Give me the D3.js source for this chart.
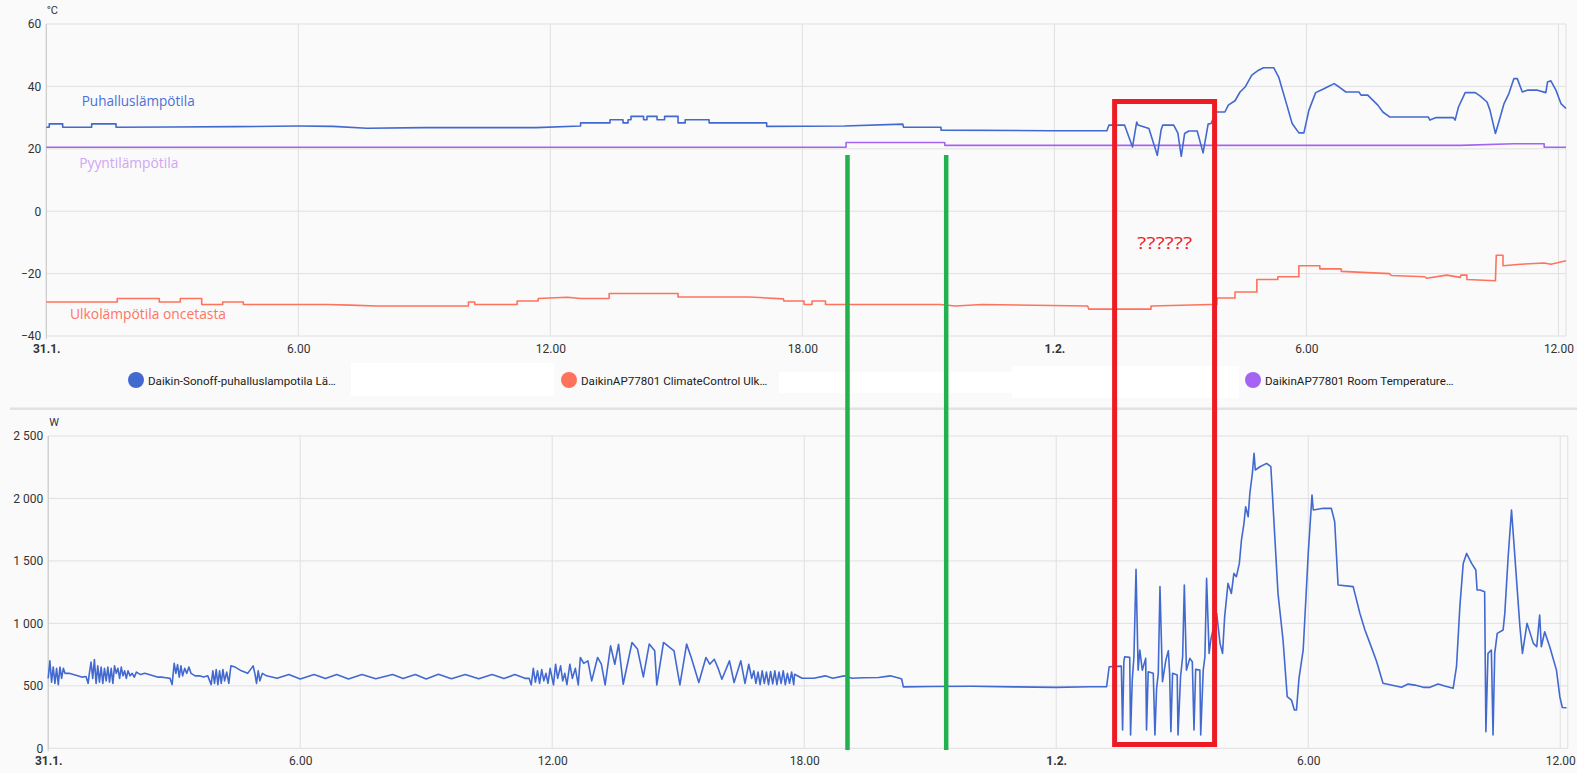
<!DOCTYPE html>
<html>
<head>
<meta charset="utf-8">
<script src="https://cdn.jsdelivr.net/npm/d3@7"></script>
<style>
  body { margin: 0; background: #fafafa; }
  svg { display: block; }
  .tick text { font-family: Roboto, sans-serif; font-size: 12px; fill: #333; }
</style>
</head>
<body>
<svg width="1577" height="773"></svg>
<script>
// hours since 31.1. 00:00
const xTicks = [0, 6, 12, 18, 24, 30, 36];
const xTickLabels = ["31.1.", "6.00", "12.00", "18.00", "1.2.", "6.00", "12.00"];
const dayTicks = [0, 24];
const tempTicks = [-40, -20, 0, 20, 40, 60];
const powerTicks = [0, 500, 1000, 1500, 2000, 2500];

// Puhalluslämpötila (°C)
const blowTemp = [[0,26.9],[0.07,26.9],[0.07,28],[0.39,28],[0.39,26.9],[1.08,26.9],[1.08,28],[1.66,28],[1.66,26.9],[3,27],[4.5,27.1],[6,27.3],[6.83,27.2],[7.63,26.6],[9,26.8],[10.5,26.8],[11.66,26.8],[12.72,27.3],[12.72,28.3],[13.42,28.3],[13.42,29.3],[13.73,29.3],[13.73,28.3],[13.85,28.3],[13.85,29.3],[13.92,29.3],[13.92,30.4],[14.22,30.4],[14.22,29.3],[14.3,29.3],[14.3,30.4],[14.54,30.4],[14.54,29.3],[14.72,29.3],[14.72,30.4],[15.04,30.4],[15.04,28.3],[15.21,28.3],[15.21,29.3],[15.78,29.3],[15.78,28.3],[17.15,28.3],[17.15,27.2],[19,27.3],[20.39,27.9],[20.41,26.9],[21.3,26.9],[21.3,26],[23.9,25.8],[25.25,25.8],[25.3,27.6],[25.67,27.6],[25.86,20.6],[25.96,28.6],[25.99,27.6],[26.25,26.5],[26.45,17.9],[26.54,26],[26.58,27.6],[26.84,27.6],[26.94,25],[27.02,17.6],[27.1,24.9],[27.2,25.7],[27.4,25.7],[27.54,18.7],[27.66,27.9],[27.73,28.1],[27.85,31.8],[28.06,31.8],[28.14,34],[28.3,35.4],[28.42,38.2],[28.54,39.8],[28.7,43.6],[28.86,45.2],[28.98,46],[29.22,46],[29.34,43],[29.5,35.6],[29.66,28.1],[29.82,25.1],[29.94,25.1],[30.06,32.4],[30.22,38],[30.38,39],[30.5,39.8],[30.66,40.9],[30.78,39.8],[30.94,38.2],[31.25,38.2],[31.3,37.2],[31.46,37.2],[31.58,35.6],[31.7,34],[31.82,31.8],[31.98,30.2],[32.9,30.2],[32.94,29.2],[33.09,30],[33.5,30],[33.54,29.2],[33.62,33.4],[33.78,38],[34.02,38],[34.14,36.9],[34.3,35],[34.37,32.4],[34.5,24.9],[34.58,28.6],[34.7,34.3],[34.82,37.7],[34.94,42.5],[35.02,42.5],[35.14,38.2],[35.26,38.8],[35.5,38.8],[35.7,38],[35.74,41.4],[35.82,41.8],[35.94,38.8],[36.06,34.5],[36.18,32.9]];

// Pyyntilämpötila / room temperature (°C)
const roomTemp = [[0,20.5],[19.04,20.5],[19.04,22],[21.39,22],[21.39,21.1],[33.66,21.1],[34.94,21.6],[35.66,21.6],[35.66,20.5],[36.18,20.5]];

// Ulkolämpötila (°C)
const outdoorTemp = [[0,-29.1],[1.69,-29.1],[1.69,-28],[2.69,-28],[2.69,-29.1],[3.19,-29.1],[3.19,-28],[3.7,-28],[3.7,-29.9],[4.2,-29.9],[4.2,-29.1],[4.69,-29.1],[4.69,-29.9],[6.7,-29.9],[7.23,-30.1],[7.87,-30.4],[10.05,-30.4],[10.05,-29.1],[10.2,-29.1],[10.2,-29.9],[11.21,-29.9],[11.21,-28.8],[11.71,-28.8],[11.71,-28],[12.4,-27.6],[12.72,-28],[13.4,-28],[13.4,-26.4],[15.04,-26.4],[15.04,-27.5],[16.73,-27.5],[17.55,-28.1],[17.56,-28.8],[18.04,-28.8],[18.04,-29.9],[18.23,-29.9],[18.23,-28.8],[18.55,-28.8],[18.55,-29.9],[21.28,-29.9],[21.64,-30.4],[22.28,-29.9],[24.79,-30.4],[24.82,-31.4],[26.3,-31.4],[26.3,-30.4],[27.74,-29.9],[27.87,-29.9],[27.87,-27.8],[28.3,-27.8],[28.3,-25.9],[28.82,-25.9],[28.82,-21.9],[29.32,-21.9],[29.32,-21],[29.82,-21],[29.82,-17.5],[30.32,-17.5],[30.32,-18.5],[30.83,-18.5],[30.83,-19.3],[31.98,-20],[32.02,-20.6],[32.82,-21],[32.86,-21.5],[33.34,-20.5],[33.66,-21.2],[33.68,-20.5],[33.82,-20.5],[33.82,-21.9],[34.5,-22.3],[34.52,-14.1],[34.68,-14.1],[34.68,-17.5],[35.1,-17],[35.66,-16.6],[35.82,-17],[36.18,-15.9]];

// power (W)
const powerW = [[0,560],[0.04,700],[0.08,530],[0.12,650],[0.16,520],[0.2,640],[0.24,510],[0.28,650],[0.32,560],[0.36,640],[0.4,600],[0.5,600],[0.6,590],[0.7,580],[0.8,570],[0.9,575],[0.95,520],[0.98,600],[1.02,690],[1.06,560],[1.1,710],[1.14,520],[1.18,660],[1.22,530],[1.26,650],[1.3,520],[1.34,640],[1.38,540],[1.42,650],[1.46,530],[1.5,640],[1.54,520],[1.58,660],[1.62,600],[1.66,640],[1.7,560],[1.74,650],[1.78,580],[1.82,620],[1.86,560],[1.9,620],[1.95,580],[2.0,600],[2.05,570],[2.1,610],[2.2,590],[2.3,600],[2.4,590],[2.5,580],[2.6,570],[2.7,570],[2.8,565],[2.9,560],[2.95,510],[3.0,680],[3.04,600],[3.08,670],[3.12,570],[3.16,660],[3.2,580],[3.25,640],[3.3,600],[3.35,650],[3.4,600],[3.5,580],[3.6,580],[3.7,570],[3.8,580],[3.88,510],[3.92,620],[3.96,520],[4.0,630],[4.04,510],[4.08,620],[4.12,520],[4.16,630],[4.2,540],[4.25,610],[4.3,520],[4.35,660],[4.45,650],[4.6,620],[4.75,600],[4.88,660],[4.92,600],[4.96,520],[5.0,620],[5.04,540],[5.1,600],[5.2,580],[5.45,560],[5.73,590],[6.0,555],[6.33,590],[6.6,558],[6.87,590],[7.15,555],[7.47,590],[7.8,556],[8.2,590],[8.45,558],[8.74,590],[9.0,555],[9.29,592],[9.6,557],[9.93,590],[10.25,556],[10.57,590],[10.85,558],[11.11,590],[11.35,560],[11.45,560],[11.5,508],[11.55,640],[11.6,530],[11.65,620],[11.7,520],[11.75,630],[11.8,540],[11.85,600],[11.9,520],[11.95,640],[12.03,508],[12.08,673],[12.13,560],[12.2,660],[12.25,540],[12.3,600],[12.35,510],[12.42,673],[12.48,560],[12.55,640],[12.62,508],[12.67,727],[12.75,680],[12.85,700],[12.94,540],[13.08,727],[13.17,673],[13.26,508],[13.39,820],[13.49,673],[13.58,833],[13.69,513],[13.9,847],[14.03,794],[14.17,572],[14.31,834],[14.44,780],[14.49,508],[14.65,847],[14.9,780],[15.04,508],[15.2,834],[15.31,727],[15.49,527],[15.66,727],[15.75,673],[15.86,713],[15.95,640],[16.04,553],[16.22,700],[16.33,527],[16.49,700],[16.59,519],[16.68,673],[16.75,560],[16.8,620],[16.85,520],[16.9,610],[16.95,510],[17.0,620],[17.05,520],[17.1,610],[17.15,510],[17.2,615],[17.25,515],[17.3,620],[17.35,510],[17.4,610],[17.45,520],[17.5,620],[17.55,510],[17.6,600],[17.65,520],[17.7,610],[17.75,510],[17.77,593],[17.95,561],[18.23,561],[18.5,580],[18.68,561],[18.95,580],[19.14,561],[19.4,565],[19.77,567],[20.05,580],[20.27,561],[20.32,555],[20.36,492],[21,495],[22,497],[23,492],[24,488],[24.8,493],[25.2,493],[25.26,653],[25.55,658],[25.58,146],[25.61,693],[25.63,733],[25.75,728],[25.77,106],[25.81,546],[25.85,733],[25.9,1432],[25.95,626],[25.99,787],[26.05,626],[26.13,720],[26.15,146],[26.19,613],[26.31,600],[26.35,106],[26.39,480],[26.43,600],[26.47,1294],[26.53,533],[26.61,706],[26.67,781],[26.7,600],[26.73,133],[26.77,600],[26.88,586],[26.9,106],[26.96,573],[27.01,733],[27.05,1307],[27.1,626],[27.18,720],[27.24,693],[27.28,146],[27.32,632],[27.42,626],[27.44,106],[27.5,626],[27.54,733],[27.58,1360],[27.64,760],[27.68,867],[27.82,1080],[27.9,840],[27.96,760],[28.01,1053],[28.09,1320],[28.17,1240],[28.23,1400],[28.29,1374],[28.36,1480],[28.41,1667],[28.47,1801],[28.51,1934],[28.57,1854],[28.61,2041],[28.67,2201],[28.71,2361],[28.74,2228],[28.85,2254],[29.01,2281],[29.11,2254],[29.28,1240],[29.4,867],[29.5,413],[29.6,386],[29.67,306],[29.72,306],[29.78,560],[29.88,787],[30.0,1560],[30.09,2028],[30.12,1908],[30.36,1921],[30.55,1921],[30.63,1814],[30.71,1307],[31.07,1294],[31.23,1080],[31.35,947],[31.47,840],[31.63,693],[31.78,520],[32.22,488],[32.38,514],[32.54,506],[32.74,488],[32.9,488],[33.09,514],[33.25,498],[33.45,480],[33.53,653],[33.61,1133],[33.69,1480],[33.77,1560],[33.89,1480],[33.99,1427],[34.02,1267],[34.09,1267],[34.2,1254],[34.23,133],[34.28,760],[34.36,787],[34.4,106],[34.44,760],[34.5,920],[34.64,947],[34.68,1080],[34.76,1534],[34.84,1908],[34.92,1534],[35.04,973],[35.1,760],[35.21,1000],[35.36,840],[35.44,813],[35.51,1067],[35.55,813],[35.63,933],[35.75,813],[35.91,626],[35.99,413],[36.05,327],[36.15,325]];

const legendNames = ["Daikin-Sonoff-puhalluslampotila Lä…", "DaikinAP77801 ClimateControl Ulk…", "DaikinAP77801 Room Temperature…"];
const legendColors = ["#4269d0", "#ff725c", "#a463f2"];

// hand-drawn markings on the screenshot (hours)
const greenMarks = [19.03, 21.38];
const redBox = [25.39, 27.77];

const hoursEnd = 36.18;
const svg = d3.select("svg");
svg.append("rect").attr("width", 1577).attr("height", 773).attr("fill", "#fafafa");

const spaceFmt = d3.formatLocale({ decimal: ",", thousands: " ", grouping: [3], currency: ["", ""] }).format(",");

function drawChart(cfg) {
  const x = d3.scaleLinear().domain([0, hoursEnd]).range([cfg.left, cfg.right]);
  const y = d3.scaleLinear().domain(cfg.domain).range([cfg.bottom, cfg.top]);
  const g = svg.append("g");

  // grid
  g.append("g").selectAll("line").data(cfg.yTicks).join("line")
    .attr("x1", cfg.left).attr("x2", cfg.right)
    .attr("y1", d => y(d)).attr("y2", d => y(d))
    .attr("stroke", "#e0e0e0");
  g.append("g").selectAll("line").data(xTicks.concat([hoursEnd])).join("line")
    .attr("x1", d => x(d)).attr("x2", d => x(d))
    .attr("y1", cfg.top).attr("y2", cfg.bottom)
    .attr("stroke", "#e0e0e0");
  g.append("line").attr("x1", cfg.left).attr("x2", cfg.left)
    .attr("y1", cfg.top).attr("y2", cfg.bottom + 3).attr("stroke", "#c8c8c8");

  const yAxis = g.append("g").attr("transform", `translate(${cfg.left},0)`)
    .call(d3.axisLeft(y).tickValues(cfg.yTicks).tickSize(0).tickPadding(5).tickFormat(cfg.fmt));
  yAxis.select(".domain").remove();

  const xAxis = g.append("g").attr("transform", `translate(0,${cfg.bottom})`)
    .call(d3.axisBottom(x).tickValues(xTicks).tickSize(0).tickPadding(8)
      .tickFormat((d, i) => xTickLabels[i]));
  xAxis.select(".domain").remove();
  xAxis.selectAll(".tick text")
    .style("font-weight", d => dayTicks.includes(d) ? "bold" : null);

  g.append("text").attr("x", cfg.left + 6).attr("y", cfg.top - 10)
    .attr("text-anchor", "middle").attr("font-family", "Roboto, sans-serif")
    .attr("font-size", 11).attr("fill", "#333").text(cfg.unit);

  const line = d3.line().x(d => x(d[0])).y(d => y(d[1]));
  cfg.series.forEach(s => {
    g.append("path").datum(s.data).attr("d", line)
      .attr("fill", "none").attr("stroke", s.color).attr("stroke-width", 1.6)
      .attr("stroke-linejoin", "round");
  });
  return { x, y };
}

const tempChart = drawChart({
  left: 46.3, right: 1566, top: 24, bottom: 336, domain: [-40, 60],
  yTicks: tempTicks, fmt: d => d < 0 ? "\u2212" + Math.abs(d) : d, unit: "°C",
  series: [
    { data: outdoorTemp, color: "#ff725c" },
    { data: roomTemp, color: "#a463f2" },
    { data: blowTemp, color: "#4269d0" }
  ]
});

const powerChart = drawChart({
  left: 48.2, right: 1567.8, top: 436, bottom: 748.3, domain: [0, 2500],
  yTicks: powerTicks, fmt: spaceFmt, unit: "W",
  series: [{ data: powerW, color: "#4269d0" }]
});

// separator between the cards
svg.append("rect").attr("x", 10).attr("y", 407.5).attr("width", 1567).attr("height", 2.5).attr("fill", "#e2e2e2");

// legend
const legendX = [136, 569, 1253];
const legend = svg.append("g");
legendNames.forEach((n, i) => {
  legend.append("circle").attr("cx", legendX[i]).attr("cy", 380).attr("r", 8).attr("fill", legendColors[i]);
  legend.append("text").attr("x", legendX[i] + 12).attr("y", 384.5)
    .attr("font-family", "Roboto, sans-serif").attr("font-size", 11.6).attr("fill", "#212121").text(n);
});
// white boxes covering hidden legend entries
[[351, 363, 203, 33], [779, 372, 233, 21], [1012, 366, 227, 32]].forEach(b => {
  svg.append("rect").attr("x", b[0]).attr("y", b[1]).attr("width", b[2]).attr("height", b[3]).attr("fill", "#fff");
});

// text annotations written on the screenshot
const notes = [
  { t: "Puhalluslämpötila", x: 81.7, y: 105.5, w: 113, c: "#4a6fd8" },
  { t: "Pyyntilämpötila", x: 79.3, y: 168.3, w: 99, c: "#cfa6f5" },
  { t: "Ulkolämpötila oncetasta", x: 70, y: 319.3, w: 156, c: "#ff7562" }
];
notes.forEach(n => {
  svg.append("text").attr("x", n.x).attr("y", n.y).attr("fill", n.c)
    .attr("font-family", "'Open Sans', sans-serif").attr("font-size", 14)
    .attr("textLength", n.w).attr("lengthAdjust", "spacingAndGlyphs").text(n.t);
});

// green markers
svg.selectAll(".green").data(greenMarks).join("line")
  .attr("x1", d => powerChart.x(d)).attr("x2", d => powerChart.x(d))
  .attr("y1", 155).attr("y2", 750)
  .attr("stroke", "#22b14c").attr("stroke-width", 4.5);

// red box
const rx0 = powerChart.x(redBox[0]), rx1 = powerChart.x(redBox[1]);
svg.append("rect").attr("x", rx0).attr("y", 101.5).attr("width", rx1 - rx0).attr("height", 643)
  .attr("fill", "none").attr("stroke", "#ed1c24").attr("stroke-width", 5);
svg.append("text").attr("x", (rx0 + rx1) / 2).attr("y", 249).attr("text-anchor", "middle")
  .attr("fill", "#ed1c24").attr("font-family", "'Open Sans', sans-serif").attr("font-size", 17)
  .attr("textLength", 55).attr("lengthAdjust", "spacingAndGlyphs").text("??????");
</script>
</body>
</html>
